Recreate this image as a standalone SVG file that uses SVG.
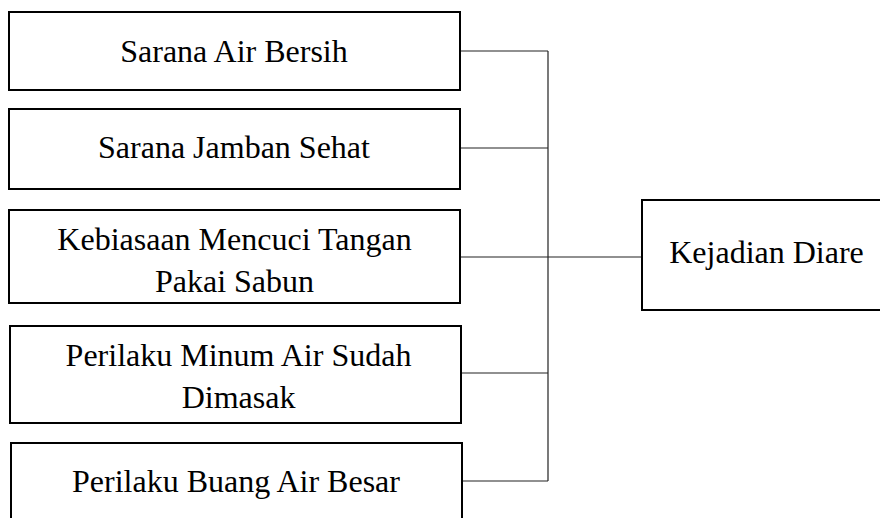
<svg xmlns="http://www.w3.org/2000/svg" width="880" height="518" viewBox="0 0 880 518">
<style>
.box{fill:#fff;stroke:#000;stroke-width:2}
.t{font-family:'Liberation Serif','Times New Roman',serif;font-size:32px;fill:#000;text-anchor:middle}
.c{fill:none;stroke:#222;stroke-width:1.2}
</style>
<rect width="880" height="518" fill="#fff"/>
<g id="connectors">
<path class="c" d="M460 51H548M460 148H548M460 257H642M461 373H548M462 481H548M548 51V481"/>
</g>
<g id="n1"><rect class="box" x="9" y="12" width="451" height="78"/><text class="t" x="234" y="62">Sarana Air Bersih</text></g>
<g id="n2"><rect class="box" x="9" y="109" width="451" height="80"/><text class="t" x="234" y="158">Sarana Jamban Sehat</text></g>
<g id="n3"><rect class="box" x="9" y="210" width="451" height="93"/><text class="t" x="234.5" y="250">Kebiasaan Mencuci Tangan</text><text class="t" x="234.5" y="292">Pakai Sabun</text></g>
<g id="n4"><rect class="box" x="10" y="326" width="451" height="97"/><text class="t" x="238.5" y="366">Perilaku Minum Air Sudah</text><text class="t" x="238.5" y="408">Dimasak</text></g>
<g id="n5"><rect class="box" x="11" y="443" width="451" height="90"/><text class="t" x="236" y="492">Perilaku Buang Air Besar</text></g>
<g id="n6"><rect class="box" x="642" y="200" width="245" height="110"/><text class="t" x="766.5" y="263">Kejadian Diare</text></g>
</svg>
